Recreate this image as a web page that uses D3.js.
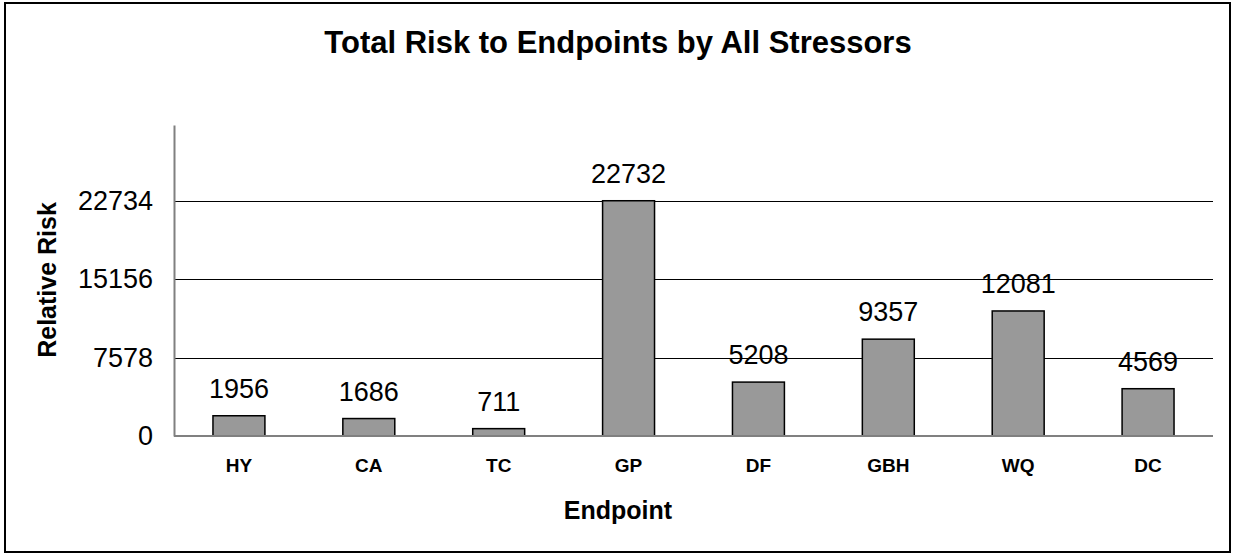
<!DOCTYPE html>
<html>
<head>
<meta charset="utf-8">
<script src="https://cdn.jsdelivr.net/npm/d3@7"></script>
<style>
  body { margin: 0; background: #fff; }
  svg { display: block; font-family: "Liberation Sans", Arial, sans-serif; }
</style>
</head>
<body>
<svg></svg>
<script>
let categories = ['HY', 'CA', 'TC', 'GP', 'DF', 'GBH', 'WQ', 'DC'];
let values = [1956, 1686, 711, 22732, 5208, 9357, 12081, 4569];
let yTicks = [0, 7578, 15156, 22734];

let width = 1233;
let height = 554;

let plotLeft = 174;
let plotRight = 1213;
let plotTop = 125;
let plotBottom = 436;

let svg = d3.select('svg').attr('width', width).attr('height', height);

// outer frame
svg.append('rect').
attr('x', 5).attr('y', 3).
attr('width', 1225).attr('height', 549).
attr('fill', 'none').
attr('stroke', '#000').
attr('stroke-width', 2);

let xScale = d3.scaleBand().
domain(categories).
range([plotLeft, plotRight]).
paddingInner(0.6).
paddingOuter(0.3);

let yScale = d3.scaleLinear().
domain([0, 30050]).
range([plotBottom, plotTop]);

// gridlines
svg.selectAll('line.grid').
data(yTicks.filter(t => t > 0)).
enter().
append('line').
attr('class', 'grid').
attr('x1', plotLeft).
attr('x2', plotRight).
attr('y1', d => Math.round(yScale(d)) + 0.5).
attr('y2', d => Math.round(yScale(d)) + 0.5).
attr('stroke', '#000').
attr('stroke-width', 1);

// y axis
let yAxis = d3.axisLeft(yScale).tickValues(yTicks).tickSize(0).tickPadding(21).tickFormat(d => d);
let gy = svg.append('g').
attr('transform', 'translate(' + plotLeft + ',0)').
call(yAxis);
gy.select('.domain').attr('stroke', '#808080').attr('stroke-width', 2);
gy.selectAll('text').
attr('font-size', 27).
attr('fill', '#000').
attr('font-family', '"Liberation Sans", Arial, sans-serif');

// bars
svg.selectAll('rect.bar').
data(values).
enter().
append('rect').
attr('class', 'bar').
attr('x', (d, i) => xScale(categories[i])).
attr('y', d => yScale(d)).
attr('width', xScale.bandwidth()).
attr('height', d => plotBottom - yScale(d)).
attr('fill', '#999999').
attr('stroke', '#000').
attr('stroke-width', 1.5);

// x baseline
svg.append('line').
attr('x1', plotLeft).
attr('x2', plotRight).
attr('y1', plotBottom).
attr('y2', plotBottom).
attr('stroke', '#808080').
attr('stroke-width', 2);

// value labels
svg.selectAll('text.val').
data(values).
enter().
append('text').
attr('class', 'val').
attr('x', (d, i) => xScale(categories[i]) + xScale.bandwidth() / 2).
attr('y', d => yScale(d) - 18).
attr('text-anchor', 'middle').
attr('font-size', 27).
text(d => d);

// x axis labels
let xAxis = d3.axisBottom(xScale).tickSize(0).tickPadding(23);
let gx = svg.append('g').
attr('transform', 'translate(0,' + plotBottom + ')').
call(xAxis);
gx.select('.domain').remove();
gx.selectAll('text').
attr('font-size', 19).
attr('font-weight', 'bold').
attr('fill', '#000').
attr('font-family', '"Liberation Sans", Arial, sans-serif');

// title
svg.append('text').
attr('x', 618).
attr('y', 53).
attr('text-anchor', 'middle').
attr('font-size', 31).
attr('font-weight', 'bold').
text('Total Risk to Endpoints by All Stressors');

// axis titles
svg.append('text').
attr('x', 618).
attr('y', 519).
attr('text-anchor', 'middle').
attr('font-size', 25).
attr('font-weight', 'bold').
text('Endpoint');

svg.append('text').
attr('transform', 'translate(56,280) rotate(-90)').
attr('text-anchor', 'middle').
attr('font-size', 25).
attr('font-weight', 'bold').
text('Relative Risk');
</script>
</body>
</html>
